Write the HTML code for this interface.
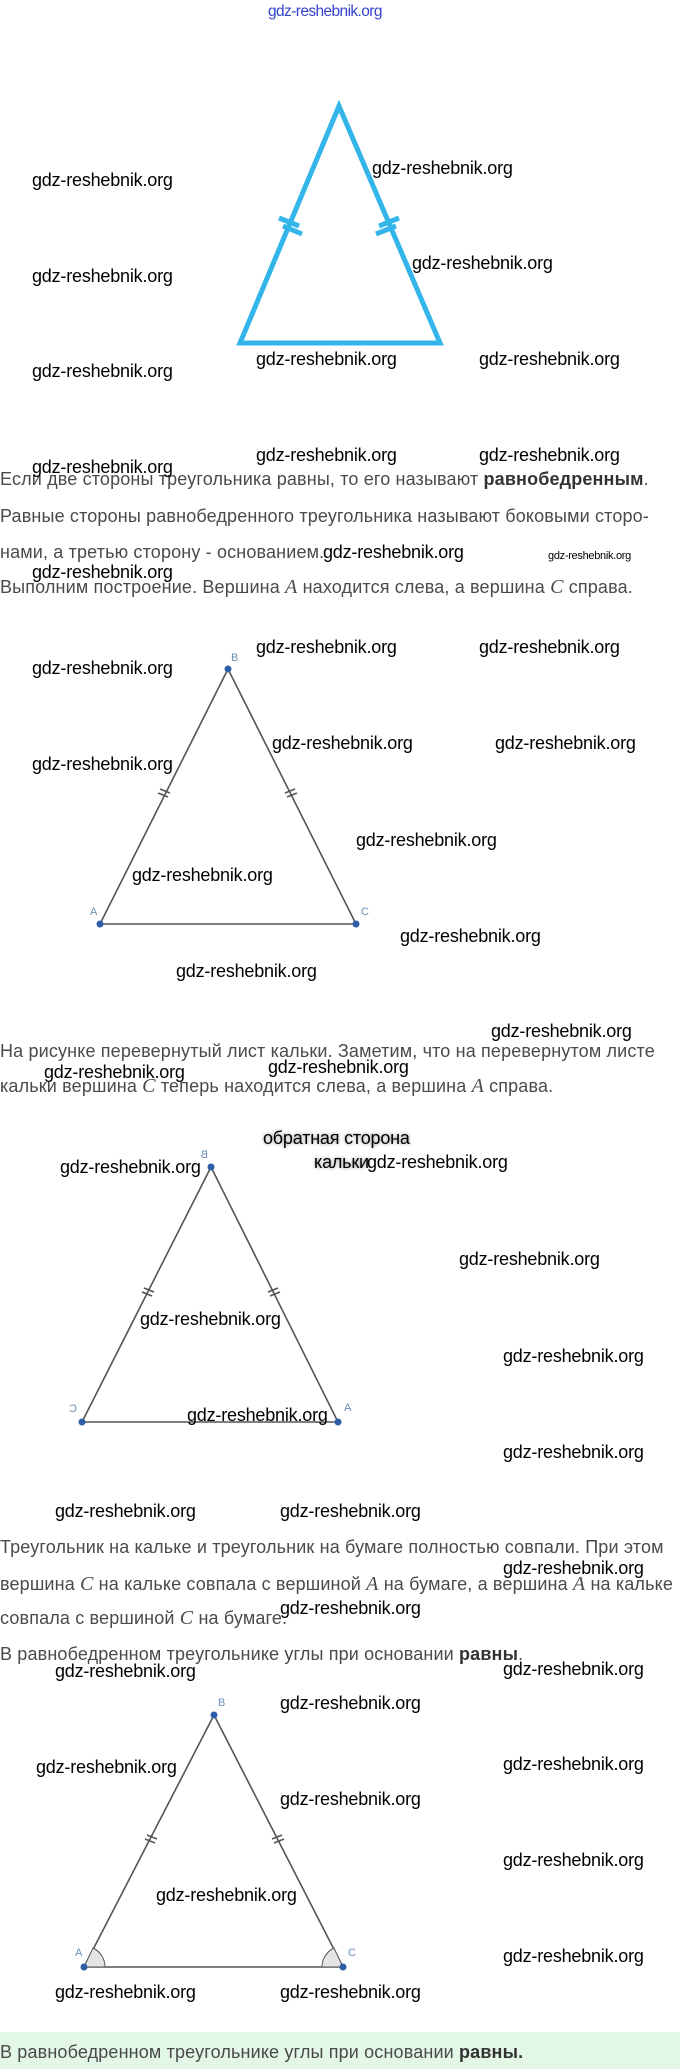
<!DOCTYPE html>
<html><head><meta charset="utf-8"><style>
body{margin:0;width:680px;height:2069px;position:relative;background:#fff;overflow:hidden;font-family:"Liberation Sans",sans-serif}
.w{position:absolute;font-size:18px;line-height:22px;color:#000;white-space:nowrap;letter-spacing:-0.2px}
.t{position:absolute;left:0;font-size:18px;line-height:22px;color:#4a4a4a;white-space:nowrap;letter-spacing:0.15px}
.t b{color:#333}
.m{font-family:"Liberation Serif",serif;font-style:italic;font-size:20px}
svg{position:absolute;left:0;top:0}
</style></head><body>
<div class="w" style="left:268px;top:1px;color:#3344cc;font-size:15.5px;letter-spacing:-0.6px">gdz-reshebnik.org</div>

<svg width="680" height="2069">
<g stroke="#33b5ea" stroke-width="5" fill="none" stroke-linejoin="miter">
<polygon points="339,106 240,343 440,343"/>
<line x1="279" y1="218" x2="299" y2="226"/><line x1="283" y1="226" x2="302" y2="234"/>
<line x1="379" y1="226" x2="399" y2="218"/><line x1="376" y1="234" x2="396" y2="226"/>
</g>
<g stroke="#555" stroke-width="1.6" fill="none">
<polygon points="228,669 100,924 356,924"/>
<line x1="158" y1="793" x2="168" y2="797"/><line x1="160" y1="789" x2="170" y2="793"/>
<line x1="287" y1="797" x2="297" y2="793"/><line x1="285" y1="793" x2="295" y2="789"/>
<polygon points="211,1167 82,1422 338,1422"/>
<line x1="142" y1="1292" x2="152" y2="1296"/><line x1="144" y1="1288" x2="154" y2="1292"/>
<line x1="270" y1="1296" x2="280" y2="1292"/><line x1="268" y1="1292" x2="278" y2="1288"/>
<polygon points="214,1715 84,1967 343,1967"/>
<line x1="145" y1="1839" x2="155" y2="1843"/><line x1="147" y1="1835" x2="157" y2="1839"/>
<line x1="274" y1="1843" x2="284" y2="1839"/><line x1="272" y1="1839" x2="282" y2="1835"/>
</g>
<path d="M84,1967 L93,1948 A21,21 0 0 1 105,1967 Z" fill="#e4e4e4" stroke="#555" stroke-width="1"/>
<path d="M343,1967 L334,1948 A21,21 0 0 0 322,1967 Z" fill="#e4e4e4" stroke="#555" stroke-width="1"/>
<g fill="#2f5ea8">
<circle cx="228" cy="669" r="3.5"/><circle cx="100" cy="924" r="3.5"/><circle cx="356" cy="924" r="3.5"/>
<circle cx="211" cy="1167" r="3.5"/><circle cx="82" cy="1422" r="3.5"/><circle cx="338" cy="1422" r="3.5"/>
<circle cx="214" cy="1715" r="3.5"/><circle cx="84" cy="1967" r="3.5"/><circle cx="343" cy="1967" r="3.5"/>
</g>
<g fill="#6b8fb8" font-family="Liberation Sans" font-size="11">
<text x="231" y="661">B</text><text x="90" y="915">A</text><text x="361" y="915">C</text>
<text x="204" y="1158" transform="translate(412,0) scale(-1,1)" >B</text>
<text x="73" y="1412" transform="translate(150,0) scale(-1,1)">C</text><text x="344" y="1411">A</text>
<text x="218" y="1706">B</text><text x="75" y="1956">A</text><text x="348" y="1956">C</text>
</g>
</svg>

<div class="t" style="top:468px">Если две стороны треугольника равны, то его называют <b>равнобедренным</b>.</div>
<div class="t" style="top:505px">Равные стороны равнобедренного треугольника называют боковыми сторо-</div>
<div class="t" style="top:541px">нами, а третью сторону - основанием.</div>
<div class="t" style="top:576px">Выполним построение. Вершина <span class="m">A</span> находится слева, а вершина <span class="m">C</span> справа.</div>
<div class="t" style="top:1040px">На рисунке перевернутый лист кальки. Заметим, что на перевернутом листе</div>
<div class="t" style="top:1075px">кальки вершина <span class="m">C</span> теперь находится слева, а вершина <span class="m">A</span> справа.</div>
<div class="w" style="left:263px;top:1127px;text-shadow:0 0 3px #888">обратная сторона</div>
<div class="w" style="left:314px;top:1151px;text-shadow:0 0 3px #888">кальки</div>
<div class="t" style="top:1536px">Треугольник на кальке и треугольник на бумаге полностью совпали. При этом</div>
<div class="t" style="top:1573px">вершина <span class="m">C</span> на кальке совпала с вершиной <span class="m">A</span> на бумаге, а вершина <span class="m">A</span> на кальке</div>
<div class="t" style="top:1607px">совпала с вершиной <span class="m">C</span> на бумаге.</div>
<div class="t" style="top:1643px">В равнобедренном треугольнике углы при основании <b>равны</b>.</div>
<div style="position:absolute;left:0;top:2032px;width:680px;height:37px;background:#e3f7e6"></div>
<div class="t" style="top:2041px">В равнобедренном треугольнике углы при основании <b>равны.</b></div>

<div class="w" style="left:548px;top:545px;font-size:11px;letter-spacing:-0.3px">gdz-reshebnik.org</div>
<div class="w" style="left:32px;top:169px">gdz-reshebnik.org</div>
<div class="w" style="left:372px;top:157px">gdz-reshebnik.org</div>
<div class="w" style="left:32px;top:265px">gdz-reshebnik.org</div>
<div class="w" style="left:412px;top:252px">gdz-reshebnik.org</div>
<div class="w" style="left:32px;top:360px">gdz-reshebnik.org</div>
<div class="w" style="left:256px;top:348px">gdz-reshebnik.org</div>
<div class="w" style="left:479px;top:348px">gdz-reshebnik.org</div>
<div class="w" style="left:256px;top:444px">gdz-reshebnik.org</div>
<div class="w" style="left:479px;top:444px">gdz-reshebnik.org</div>
<div class="w" style="left:32px;top:456px">gdz-reshebnik.org</div>
<div class="w" style="left:323px;top:541px">gdz-reshebnik.org</div>
<div class="w" style="left:32px;top:561px">gdz-reshebnik.org</div>
<div class="w" style="left:256px;top:636px">gdz-reshebnik.org</div>
<div class="w" style="left:479px;top:636px">gdz-reshebnik.org</div>
<div class="w" style="left:32px;top:657px">gdz-reshebnik.org</div>
<div class="w" style="left:272px;top:732px">gdz-reshebnik.org</div>
<div class="w" style="left:495px;top:732px">gdz-reshebnik.org</div>
<div class="w" style="left:32px;top:753px">gdz-reshebnik.org</div>
<div class="w" style="left:356px;top:829px">gdz-reshebnik.org</div>
<div class="w" style="left:132px;top:864px">gdz-reshebnik.org</div>
<div class="w" style="left:400px;top:925px">gdz-reshebnik.org</div>
<div class="w" style="left:176px;top:960px">gdz-reshebnik.org</div>
<div class="w" style="left:491px;top:1020px">gdz-reshebnik.org</div>
<div class="w" style="left:44px;top:1061px">gdz-reshebnik.org</div>
<div class="w" style="left:268px;top:1056px">gdz-reshebnik.org</div>
<div class="w" style="left:367px;top:1151px">gdz-reshebnik.org</div>
<div class="w" style="left:60px;top:1156px">gdz-reshebnik.org</div>
<div class="w" style="left:459px;top:1248px">gdz-reshebnik.org</div>
<div class="w" style="left:140px;top:1308px">gdz-reshebnik.org</div>
<div class="w" style="left:503px;top:1345px">gdz-reshebnik.org</div>
<div class="w" style="left:187px;top:1404px">gdz-reshebnik.org</div>
<div class="w" style="left:503px;top:1441px">gdz-reshebnik.org</div>
<div class="w" style="left:55px;top:1500px">gdz-reshebnik.org</div>
<div class="w" style="left:280px;top:1500px">gdz-reshebnik.org</div>
<div class="w" style="left:503px;top:1557px">gdz-reshebnik.org</div>
<div class="w" style="left:280px;top:1597px">gdz-reshebnik.org</div>
<div class="w" style="left:503px;top:1658px">gdz-reshebnik.org</div>
<div class="w" style="left:55px;top:1660px">gdz-reshebnik.org</div>
<div class="w" style="left:280px;top:1692px">gdz-reshebnik.org</div>
<div class="w" style="left:36px;top:1756px">gdz-reshebnik.org</div>
<div class="w" style="left:503px;top:1753px">gdz-reshebnik.org</div>
<div class="w" style="left:280px;top:1788px">gdz-reshebnik.org</div>
<div class="w" style="left:503px;top:1849px">gdz-reshebnik.org</div>
<div class="w" style="left:156px;top:1884px">gdz-reshebnik.org</div>
<div class="w" style="left:503px;top:1945px">gdz-reshebnik.org</div>
<div class="w" style="left:55px;top:1981px">gdz-reshebnik.org</div>
<div class="w" style="left:280px;top:1981px">gdz-reshebnik.org</div>
</body></html>
